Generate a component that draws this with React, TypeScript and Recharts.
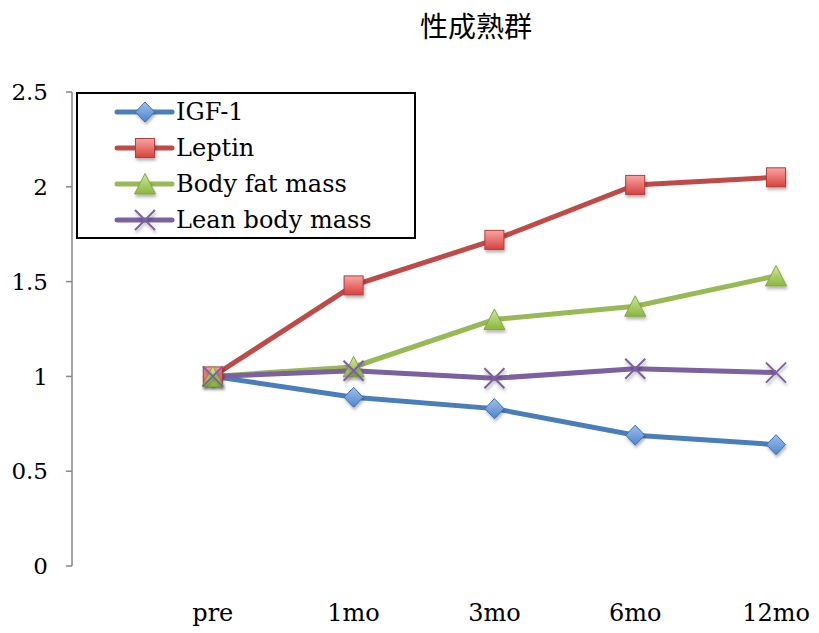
import React from "react";
import { LineChart, Line, XAxis, YAxis, Legend } from "recharts";

// Relative change from baseline, sexually-matured group
const categories = ["", "pre", "1mo", "3mo", "6mo", "12mo"];
const igf1 = [null, 1.0, 0.89, 0.83, 0.69, 0.64];
const leptin = [null, 1.0, 1.48, 1.72, 2.01, 2.05];
const bodyFat = [null, 1.0, 1.05, 1.3, 1.37, 1.53];
const leanMass = [null, 1.0, 1.03, 0.99, 1.04, 1.02];
const yTicks = [0, 0.5, 1, 1.5, 2, 2.5];

const TITLE = "性成熟群";
const SERIF = '"DejaVu Serif", serif';

type MarkerKind = "diamond" | "square" | "triangle" | "cross";

type Series = {
  key: string;
  name: string;
  color: string;
  marker: MarkerKind;
};

const SERIES: Series[] = [
  { key: "igf1", name: "IGF-1", color: "#4a7ebb", marker: "diamond" },
  { key: "leptin", name: "Leptin", color: "#be4b48", marker: "square" },
  { key: "bodyFat", name: "Body fat mass", color: "#98b954", marker: "triangle" },
  { key: "leanMass", name: "Lean body mass", color: "#7d60a0", marker: "cross" },
];

const data = categories.map((c, i) => ({
  cat: c,
  igf1: igf1[i],
  leptin: leptin[i],
  bodyFat: bodyFat[i],
  leanMass: leanMass[i],
}));

function Marker({ kind, cx, cy }: { kind: MarkerKind; cx: number; cy: number }) {
  if (kind === "diamond") {
    return (
      <polygon
        points={`${cx},${cy - 10} ${cx + 9.5},${cy} ${cx},${cy + 10} ${cx - 9.5},${cy}`}
        fill="url(#gBlue)"
        stroke="#3d6fae"
        strokeWidth={1}
        filter="url(#mShadow)"
      />
    );
  }
  if (kind === "square") {
    return (
      <rect
        x={cx - 9.5}
        y={cy - 9.5}
        width={19}
        height={19}
        fill="url(#gRed)"
        stroke="#b63c3a"
        strokeWidth={1}
        filter="url(#mShadow)"
      />
    );
  }
  if (kind === "triangle") {
    return (
      <polygon
        points={`${cx},${cy - 10.5} ${cx + 10.5},${cy + 10} ${cx - 10.5},${cy + 10}`}
        fill="url(#gGreen)"
        stroke="#82a845"
        strokeWidth={1}
        filter="url(#mShadow)"
      />
    );
  }
  return (
    <g stroke="#7d60a0" strokeWidth={2} filter="url(#mShadow)">
      <line x1={cx - 10} y1={cy - 10} x2={cx + 10} y2={cy + 10} />
      <line x1={cx - 10} y1={cy + 10} x2={cx + 10} y2={cy - 10} />
    </g>
  );
}

function makeDot(kind: MarkerKind) {
  return (props: any) => {
    const { cx, cy, index, value } = props;
    if (value == null || cx == null || cy == null || isNaN(cy)) {
      return <g key={`e-${kind}-${index}`} />;
    }
    return (
      <g key={`d-${kind}-${index}`}>
        <Marker kind={kind} cx={cx} cy={cy} />
      </g>
    );
  };
}

function LegendBox() {
  return (
    <div
      style={{
        width: 340,
        height: 147,
        boxSizing: "border-box",
        border: "2px solid #000",
        background: "#fff",
        fontFamily: SERIF,
        fontSize: 24,
      }}
    >
      {SERIES.map((s) => (
        <div key={s.key} style={{ display: "flex", alignItems: "center", height: 36 }}>
          <svg width={100} height={36} style={{ flex: "none", marginLeft: -2 }}>
            <line x1={41} y1={18} x2={96} y2={18} stroke={s.color} strokeWidth={5} strokeLinecap="round" />
            <Marker kind={s.marker} cx={69} cy={18} />
          </svg>
          <span style={{ whiteSpace: "nowrap", color: "#000" }}>{s.name}</span>
        </div>
      ))}
    </div>
  );
}

export default function App() {
  return (
    <div style={{ position: "absolute", left: 0, top: 0, width: 819, height: 633, background: "#fff" }}>
      <svg width={0} height={0} style={{ position: "absolute" }}>
        <defs>
          <linearGradient id="gBlue" x1="0" y1="0" x2="0" y2="1">
            <stop offset="0%" stopColor="#9dbfeb" />
            <stop offset="100%" stopColor="#4f85cc" />
          </linearGradient>
          <linearGradient id="gRed" x1="0" y1="0" x2="0" y2="1">
            <stop offset="0%" stopColor="#f9a5a3" />
            <stop offset="100%" stopColor="#d8413e" />
          </linearGradient>
          <linearGradient id="gGreen" x1="0" y1="0" x2="0" y2="1">
            <stop offset="0%" stopColor="#cfe79c" />
            <stop offset="100%" stopColor="#8ab73f" />
          </linearGradient>
          <filter id="mShadow" x="-50%" y="-50%" width="200%" height="200%">
            <feDropShadow dx="1" dy="2.5" stdDeviation="1.5" floodColor="#000" floodOpacity="0.3" />
          </filter>
        </defs>
      </svg>

      <div
        style={{
          position: "absolute",
          left: 396,
          top: 7,
          width: 160,
          textAlign: "center",
          fontFamily: '"Noto Sans CJK JP", sans-serif',
          fontSize: 28,
          lineHeight: "36px",
          color: "#000",
        }}
      >
        {TITLE}
      </div>

      <LineChart width={819} height={633} data={data} margin={{ top: 92, right: 43, bottom: 0, left: 0 }}>
        <XAxis
          dataKey="cat"
          axisLine={false}
          tickLine={false}
          tickSize={0}
          tickMargin={38}
          height={67}
          interval={0}
          padding={{ left: 0, right: 0 }}
          tick={{ fontFamily: SERIF, fontSize: 24, fill: "#000" }}
        />
        <YAxis
          type="number"
          domain={[0, 2.5]}
          ticks={yTicks}
          width={72}
          tickSize={6}
          tickMargin={18}
          axisLine={{ stroke: "#868686", strokeWidth: 1.5 }}
          tickLine={{ stroke: "#868686", strokeWidth: 1.5 }}
          tick={{ fontFamily: SERIF, fontSize: 23, fill: "#000" }}
          tickFormatter={(v: number) => String(v)}
        />
        <Legend
          layout="vertical"
          align="center"
          verticalAlign="middle"
          wrapperStyle={{ left: 76, top: 92, width: 340, height: 147 }}
          content={() => <LegendBox />}
        />
        {SERIES.map((s) => (
          <Line
            key={s.key}
            dataKey={s.key}
            name={s.name}
            stroke={s.color}
            strokeWidth={5}
            dot={makeDot(s.marker)}
            activeDot={false}
            isAnimationActive={false}
            connectNulls={false}
          />
        ))}
      </LineChart>
    </div>
  );
}
